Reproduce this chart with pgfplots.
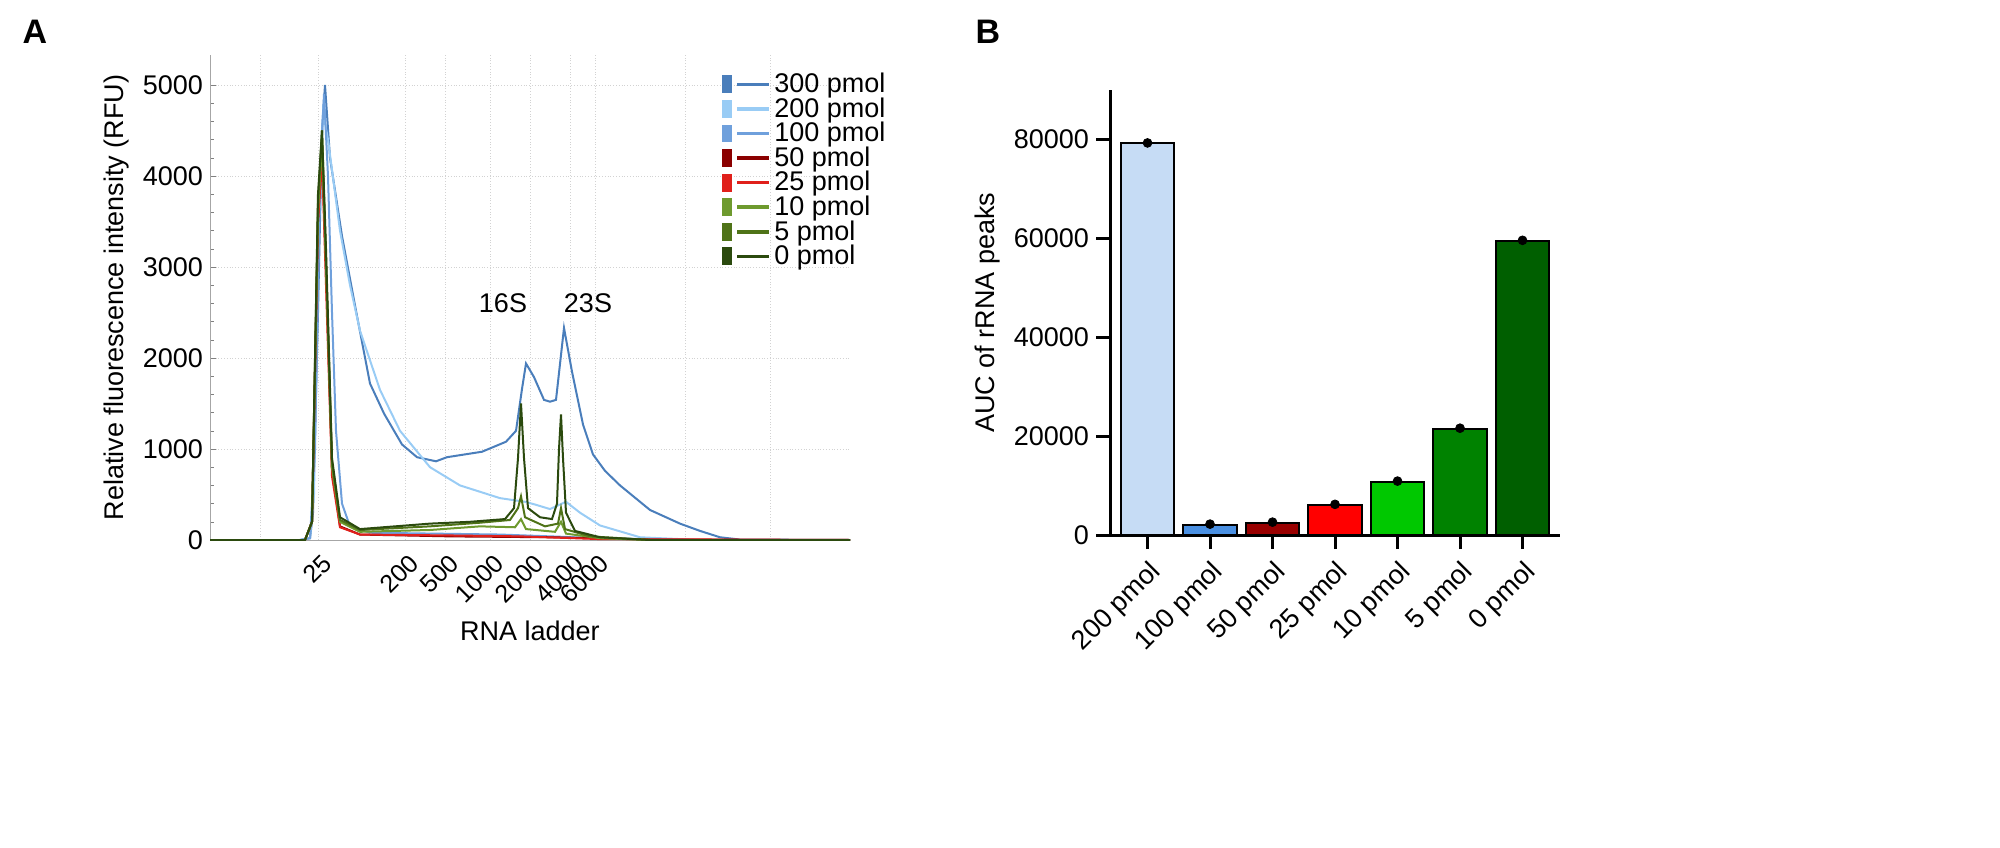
\documentclass[border=0pt]{standalone}
\usepackage{pgfplots}
\pgfplotsset{compat=1.18}
\usepackage{fontspec}
\setmainfont{Liberation Sans}
\definecolor{c300}{HTML}{4A7EBB}
\definecolor{c200}{HTML}{99CCF5}
\definecolor{c100}{HTML}{6FA0DC}
\definecolor{c50}{HTML}{8B0000}
\definecolor{c25}{HTML}{E0201B}
\definecolor{c10}{HTML}{6E9A2E}
\definecolor{c5}{HTML}{4F7318}
\definecolor{c0}{HTML}{2B4A0E}
\begin{document}
\begin{tikzpicture}
\path (0pt,0pt) rectangle (1000pt,423.5pt);
\node[font=\bfseries\fontsize{17}{20}\selectfont] at (17.5pt,407.5pt) {A};
\node[font=\bfseries\fontsize{17}{20}\selectfont] at (494pt,407.5pt) {B};
\begin{axis}[at={(105pt,153.5pt)}, anchor=south west, scale only axis,
 width=320pt, height=242.5pt,
 xmin=210, xmax=850, ymin=0, ymax=5330,
 axis line style={gray!70}, axis x line*=bottom, axis y line*=left,
 grid=major, grid style={densely dotted, gray!35},
 xtick={260,318,405,445,490,530,570,595,685,770},
 xticklabels={,25,200,500,1000,2000,4000,6000,,},
 xticklabel style={rotate=45, anchor=north east, font=\fontsize{12.5}{14}\selectfont, yshift=-2pt},
 ytick={0,1000,2000,3000,4000,5000},
 yticklabel style={font=\fontsize{13.5}{15}\selectfont},
 /pgf/number format/assume math mode=true,
 /pgf/number format/set thousands separator={},
 minor y tick num=4, tick style={gray}, major tick length=3pt, minor tick length=2pt,
 xtick style={draw=none},
 xlabel={RNA ladder}, ylabel={Relative fluorescence intensity (RFU)},
 label style={font=\fontsize{13.5}{15}\selectfont},
 legend style={at={(0.79,0.98)}, anchor=north west, draw=none, fill=none, font=\fontsize{13.5}{15}\selectfont, row sep=-3pt},
 legend cell align=left,
 legend image code/.code={\fill[#1] (0cm,-0.14cm) rectangle (0.14cm,0.14cm); \draw[#1, line width=1.8pt] (0.25cm,0cm) -- (0.8cm,0cm);},
 every axis plot/.append style={line width=1pt},
 clip=true]
\addplot[c300] coordinates {(210,0)(300,0)(310,20)(313,300)(318,2500)(322,4500)(325,5000)(330,4200)(342,3340)(356,2520)(370,1720)(384,1390)(402,1050)(417,910)(436,865)(447,910)(482,970)(506,1080)(516,1200)(522,1660)(526,1940)(534,1790)(544,1540)(550,1520)(556,1540)(564,2330)(572,1850)(583,1270)(593,940)(605,760)(620,600)(650,330)(680,180)(700,100)(720,30)(740,5)(850,0)};
\addplot[c200] coordinates {(210,0)(300,0)(310,20)(314,500)(319,3500)(323,4700)(328,4400)(340,3400)(350,2800)(360,2300)(380,1650)(400,1200)(430,800)(460,600)(500,460)(525,420)(535,390)(550,340)(566,420)(580,300)(600,160)(640,30)(700,0)(850,0)};
\addplot[c100] coordinates {(210,0)(300,0)(310,20)(315,1000)(320,4000)(324,4900)(328,4000)(332,2500)(336,1200)(342,400)(350,150)(370,80)(500,60)(600,20)(700,0)(850,0)};
\addplot[c50] coordinates {(210,0)(305,0)(312,200)(318,3500)(322,4300)(326,3000)(332,800)(340,150)(360,60)(450,40)(550,30)(650,5)(850,0)};
\addplot[c25] coordinates {(210,0)(305,0)(312,200)(318,3500)(322,4200)(326,2800)(332,700)(340,140)(360,60)(450,50)(520,40)(600,10)(850,0)};
\addplot[c10] coordinates {(210,0)(305,0)(312,200)(318,3600)(322,4400)(326,3000)(332,800)(340,200)(360,90)(430,110)(480,150)(515,140)(521,230)(526,120)(555,90)(561,200)(566,70)(600,20)(650,0)(850,0)};
\addplot[c5] coordinates {(210,0)(305,0)(312,200)(318,3700)(322,4500)(326,3100)(332,850)(340,220)(360,110)(430,150)(480,190)(510,220)(518,350)(521,480)(525,250)(545,150)(558,180)(561,350)(565,120)(590,40)(650,0)(850,0)};
\addplot[c0] coordinates {(210,0)(305,0)(312,200)(318,3800)(322,4500)(326,3200)(332,900)(340,250)(360,120)(430,180)(470,200)(505,230)(514,350)(518,900)(521,1500)(524,900)(528,350)(540,250)(552,230)(557,400)(559,1000)(561,1380)(563,900)(566,300)(575,100)(600,30)(650,0)(850,0)};
\legend{300 pmol,200 pmol,100 pmol,50 pmol,25 pmol,10 pmol,5 pmol,0 pmol}
\node[font=\fontsize{13.5}{15}\selectfont] at (axis cs:503,2600) {16S};
\node[font=\fontsize{13.5}{15}\selectfont] at (axis cs:588,2600) {23S};
\end{axis}
\begin{axis}[at={(555pt,156pt)}, anchor=south west, scale only axis,
 width=225pt, height=222.5pt,
 xmin=-0.6, xmax=6.6, ymin=0, ymax=90000,
 axis x line=bottom, axis y line=left, axis line style={line width=1.5pt, -},
 ytick={0,20000,40000,60000,80000},
 scaled y ticks=false,
 /pgf/number format/assume math mode=true,
 /pgf/number format/set thousands separator={},
 yticklabel style={font=\fontsize{13.5}{15}\selectfont},
 xtick={0,...,6},
 xticklabels={200 pmol,100 pmol,50 pmol,25 pmol,10 pmol,5 pmol,0 pmol},
 xticklabel style={rotate=45, anchor=north east, font=\fontsize{13.5}{15}\selectfont},
 tick style={line width=1.5pt, black}, tick align=outside, major tick length=7pt,
 ylabel={AUC of rRNA peaks}, label style={font=\fontsize{13.5}{15}\selectfont},
 bar width=0.85, ybar, bar shift=0pt]
\addplot[draw=black, line width=1pt, fill={rgb,255:red,198;green,220;blue,245}] coordinates {(0,79200)};
\addplot[draw=black, line width=1pt, fill={rgb,255:red,74;green,144;blue,226}] coordinates {(1,2000)};
\addplot[draw=black, line width=1pt, fill={rgb,255:red,153;green,0;blue,0}] coordinates {(2,2400)};
\addplot[draw=black, line width=1pt, fill={rgb,255:red,255;green,0;blue,0}] coordinates {(3,6000)};
\addplot[draw=black, line width=1pt, fill={rgb,255:red,0;green,200;blue,0}] coordinates {(4,10700)};
\addplot[draw=black, line width=1pt, fill={rgb,255:red,0;green,130;blue,0}] coordinates {(5,21400)};
\addplot[draw=black, line width=1pt, fill={rgb,255:red,0;green,95;blue,0}] coordinates {(6,59500)};
\addplot[only marks, mark=*, mark size=2.2pt, black] coordinates {(0,79300)(1,2200)(2,2600)(3,6200)(4,10900)(5,21600)(6,59600)};
\end{axis}
\end{tikzpicture}
\end{document}
